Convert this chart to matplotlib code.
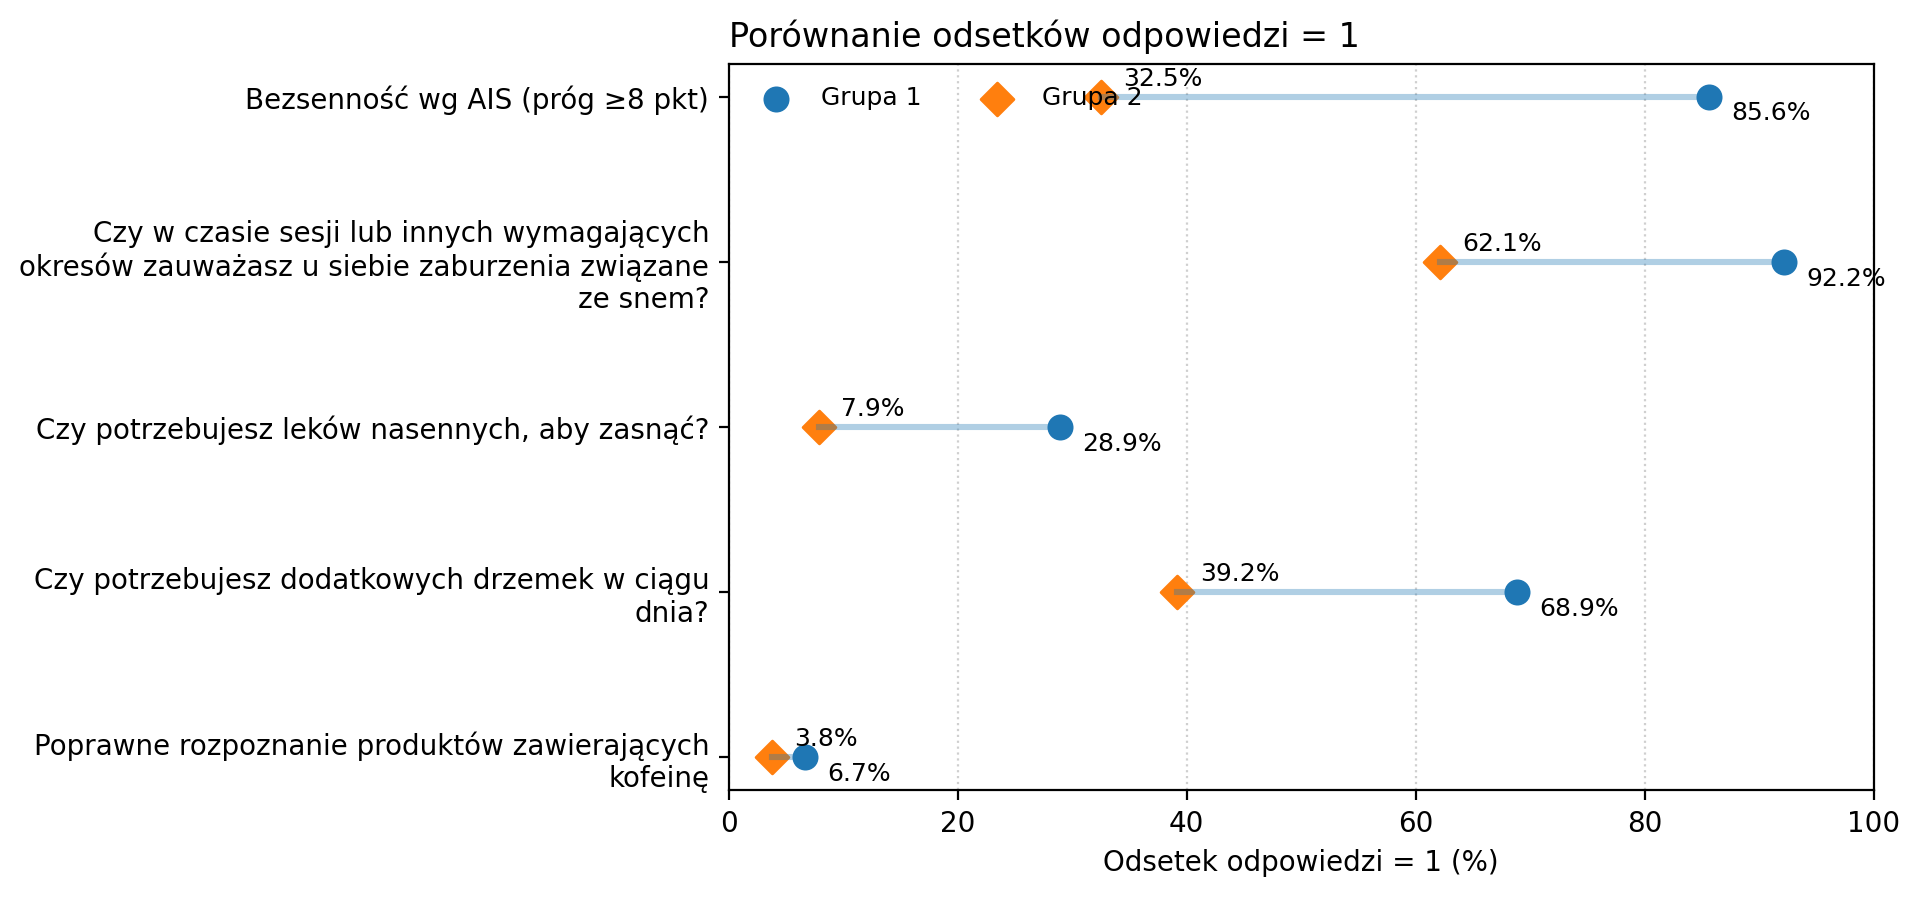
import textwrap
import matplotlib
matplotlib.use("Agg")
import matplotlib.pyplot as plt
import numpy as np

# Data
questions = [
    "Bezsenność wg AIS (próg ≥8 pkt)",
    "Czy w czasie sesji lub innych wymagających okresów zauważasz u siebie zaburzenia związane ze snem?",
    "Czy potrzebujesz leków nasennych, aby zasnąć?",
    "Czy potrzebujesz dodatkowych drzemek w ciągu dnia?",
    "Poprawne rozpoznanie produktów zawierających kofeinę",
]
grupa1 = [85.6, 92.2, 28.9, 68.9, 6.7]
grupa2 = [32.5, 62.1, 7.9, 39.2, 3.8]

fig, ax = plt.subplots(figsize=(9.6, 4.49), dpi=200)
fig.subplots_adjust(left=0.3795, right=0.9758, top=0.929, bottom=0.12)

y = np.arange(len(questions))

ax.scatter(grupa1, y, s=70, color="#1f77b4", marker="o", label="Grupa 1", zorder=2)
ax.scatter(grupa2, y, s=70, color="#ff7f0e", marker="D", label="Grupa 2", zorder=2)
for i in range(len(y)):
    ax.plot([grupa2[i], grupa1[i]], [y[i], y[i]], color="#1f77b4", alpha=0.35,
            linewidth=2.2, zorder=3)

for i in range(len(y)):
    ax.annotate(f"{grupa1[i]:.1f}%", (grupa1[i], y[i]), xytext=(8, -6),
                textcoords="offset points", ha="left", va="center", fontsize=9)
    ax.annotate(f"{grupa2[i]:.1f}%", (grupa2[i], y[i]), xytext=(8, 6.5),
                textcoords="offset points", ha="left", va="center", fontsize=9)

ax.set_yticks(y)
ax.set_yticklabels([textwrap.fill(q, 48) for q in questions])
ax.invert_yaxis()
ax.set_xlim(0, 100)
ax.grid(axis="x", linestyle=":", alpha=0.6)
ax.set_axisbelow(True)
ax.set_xlabel("Odsetek odpowiedzi = 1 (%)")
ax.set_title("Porównanie odsetków odpowiedzi = 1", loc="left", fontsize=12)
ax.legend(loc="upper left", ncol=2, frameon=False, fontsize=9)

fig.savefig("out.png", dpi=200)
